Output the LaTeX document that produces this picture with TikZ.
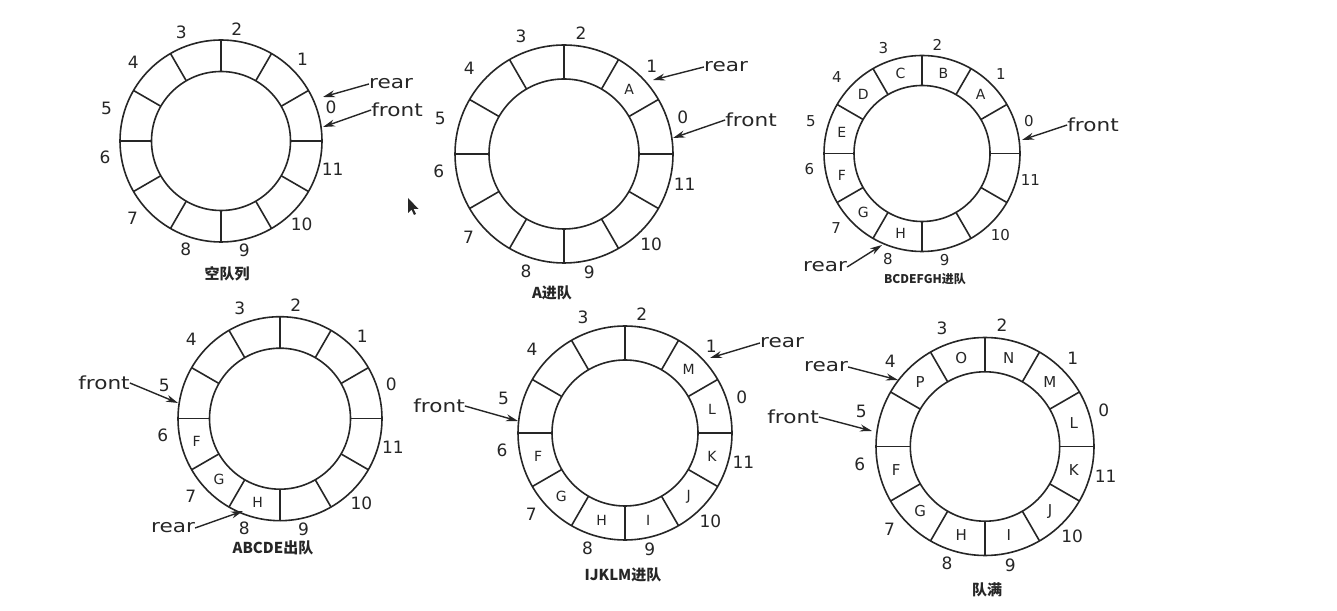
\documentclass[tikz,border=0pt]{standalone}
\usepackage{fontspec}
\setmainfont{DejaVu Sans}
\newfontfamily\cjk{Noto Sans CJK SC}
\usetikzlibrary{arrows.meta}
\tikzset{
  ringline/.style={line width=1.6pt, draw=black!85},
  numlabel/.style={inner sep=0pt, text=black!85},
  cellletter/.style={inner sep=0pt, text=black!85},
  ptrlabel/.style={inner sep=0pt, text=black!85, font=\fontsize{18}{18}\selectfont},
  ptrarrow/.style={line width=1.4pt, draw=black!85, -{Stealth[length=12pt,width=7pt]}},
  caption/.style={inner sep=0pt, text=black!85, font=\cjk\bfseries\fontsize{15}{15}\selectfont},
}
% #1 name, #2 outer radius, #3 inner radius, #4 number font size
\newcommand\cqring[4]{%
  \coordinate (#1) at (0,0);
  \draw[ringline] (0,0) circle[radius=#2];
  \draw[ringline] (0,0) circle[radius=#3];
  \foreach \a in {0,30,...,330} \draw[ringline] (\a:#3) -- (\a:#2);
  \foreach \n/\a/\f in {0/17/1.14,1/45/1.14,2/82/1.12,3/110/1.15,4/138/1.17,5/164/1.18,6/-172/1.16,7/-139/1.16,8/-108/1.13,9/-78/1.11,10/-46/1.15,11/-14/1.14}
    \node[numlabel, font=\fontsize{#4}{#4}\selectfont] (#1-n\n) at (\a:\f*#2) {\n};
}
% #1 name, #2 outer radius, #3 inner radius, #4 font size, #5 list i/letter
\newcommand\cqcells[5]{%
  \foreach \i/\l in {#5}
    \node[cellletter, font=\fontsize{#4}{#4}\selectfont] (#1-c\i) at ({30*\i+15}:{(#2+#3)/2}) {\l};
}
\begin{document}
\begin{tikzpicture}[x=1pt,y=1pt]
\fill[white] (0,0) rectangle (1337,610);
\useasboundingbox (0,0) rectangle (1337,610);

% ---- diagram 1: empty queue
\begin{scope}[shift={(221,469)}]
  \cqring{d1}{101}{69.5}{17}
\end{scope}
\node[ptrlabel] (d1-rear) at (391,526) {\scalebox{1.2}[1]{rear}};
\node[ptrlabel] (d1-front) at (397,500) {\scalebox{1.2}[1]{front}};
\coordinate (d1-reartip) at (323,513);
\coordinate (d1-fronttip) at (323,483);
\draw[ptrarrow] (d1-rear.west) -- (d1-reartip);
\draw[ptrarrow] (d1-front.west) -- (d1-fronttip);
\node[caption] (d1-cap) at (227,336) {空队列};

% ---- diagram 2: A enqueued
\begin{scope}[shift={(564,456)}]
  \cqring{d2}{109}{75}{17}
  \cqcells{d2}{109}{75}{14}{1/A}
\end{scope}
\node[ptrlabel] (d2-rear) at (726,543) {\scalebox{1.2}[1]{rear}};
\node[ptrlabel] (d2-front) at (751,490) {\scalebox{1.2}[1]{front}};
\coordinate (d2-reartip) at (653,530);
\coordinate (d2-fronttip) at (673,472);
\draw[ptrarrow] (d2-rear.west) -- (d2-reartip);
\draw[ptrarrow] (d2-front.west) -- (d2-fronttip);
\node[caption] (d2-cap) at (552,317) {A进队};

% ---- diagram 3: BCDEFGH enqueued
\begin{scope}[shift={(922,456.5)}]
  \cqring{d3}{98}{68}{15}
  \cqcells{d3}{98}{68}{14}{1/A,2/B,3/C,4/D,5/E,6/F,7/G,8/H}
\end{scope}
\node[ptrlabel] (d3-front) at (1093,485) {\scalebox{1.2}[1]{front}};
\node[ptrlabel] (d3-rear) at (825,343) {\scalebox{1.2}[1]{rear}};
\coordinate (d3-fronttip) at (1022,470);
\coordinate (d3-reartip) at (882,365);
\draw[ptrarrow] (d3-front.west) -- (d3-fronttip);
\draw[ptrarrow] (d3-rear.east) -- (d3-reartip);
\node[caption, font=\cjk\bfseries\fontsize{12}{12}\selectfont] (d3-cap) at (925,331) {BCDEFGH进队};

% ---- diagram 4: ABCDE dequeued
\begin{scope}[shift={(280,191.3)}]
  \cqring{d4}{102}{70.5}{17}
  \cqcells{d4}{102}{70.5}{14}{6/F,7/G,8/H}
\end{scope}
\node[ptrlabel] (d4-front) at (104,227) {\scalebox{1.2}[1]{front}};
\node[ptrlabel] (d4-rear) at (173,82) {\scalebox{1.2}[1]{rear}};
\coordinate (d4-fronttip) at (178,207);
\coordinate (d4-reartip) at (243,99);
\draw[ptrarrow] (d4-front.east) -- (d4-fronttip);
\draw[ptrarrow] (d4-rear.east) -- (d4-reartip);
\node[caption] (d4-cap) at (273,62) {ABCDE出队};

% ---- diagram 5: IJKLM enqueued
\begin{scope}[shift={(625,177)}]
  \cqring{d5}{107}{73}{17}
  \cqcells{d5}{107}{73}{14}{6/F,7/G,8/H,9/I,10/J,11/K,0/L,1/M}
\end{scope}
\node[ptrlabel] (d5-front) at (439,204) {\scalebox{1.2}[1]{front}};
\node[ptrlabel] (d5-rear) at (782,267) {\scalebox{1.2}[1]{rear}};
\coordinate (d5-fronttip) at (518,189);
\coordinate (d5-reartip) at (710,252);
\draw[ptrarrow] (d5-front.east) -- (d5-fronttip);
\draw[ptrarrow] (d5-rear.west) -- (d5-reartip);
\node[caption] (d5-cap) at (623,35) {IJKLM进队};

% ---- diagram 6: queue full
\begin{scope}[shift={(985,163.5)}]
  \cqring{d6}{109}{74.7}{17}
  \cqcells{d6}{109}{74.7}{15}{6/F,7/G,8/H,9/I,10/J,11/K,0/L,1/M,2/N,3/O,4/P}
\end{scope}
\node[ptrlabel] (d6-rear) at (826,243) {\scalebox{1.2}[1]{rear}};
\node[ptrlabel] (d6-front) at (793,193) {\scalebox{1.2}[1]{front}};
\coordinate (d6-reartip) at (898,230);
\coordinate (d6-fronttip) at (872,179);
\draw[ptrarrow] (d6-rear.east) -- (d6-reartip);
\draw[ptrarrow] (d6-front.east) -- (d6-fronttip);
\node[caption] (d6-cap) at (987,20) {队满};

% ---- mouse cursor
\fill[black!85] (408,412) -- (408,397) -- (411.5,400.5) -- (414,395) -- (416,396) -- (413.5,401) -- (418.5,401) -- cycle;
\end{tikzpicture}
\end{document}
